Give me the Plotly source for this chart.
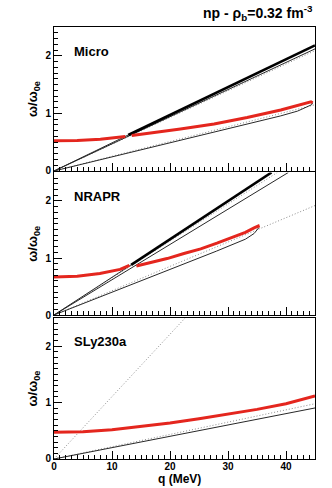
import plotly.graph_objects as go

# ---------------- data ----------------
# Panel 1: Micro
micro_thick_q = [12.8, 45]
micro_thick_w = [0.625, 2.18]
micro_seg_q = [0, 12.8]
micro_seg_w = [0, 0.625]
micro_up_thin_q = [0, 45]
micro_up_thin_w = [0, 2.12]
micro_up_dot_q = [0, 45]
micro_up_dot_w = [0, 2.09]
micro_lo_thin_q = [0, 23.5, 35, 39.1, 42.0, 43.7, 44.4, 44.6]
micro_lo_thin_w = [0, 0.57, 0.85, 0.957, 1.04, 1.108, 1.15, 1.185]
micro_lo_dot_q = [0, 45]
micro_lo_dot_w = [0, 1.15]
micro_red1_q = [0, 4, 8, 10, 12.3]
micro_red1_w = [0.525, 0.53, 0.55, 0.57, 0.60]
micro_red2_q = [13.4, 17, 21.8, 27.6, 33.3, 39.1, 42.0, 43.5, 44.3, 44.6]
micro_red2_w = [0.615, 0.66, 0.73, 0.817, 0.93, 1.06, 1.14, 1.19, 1.2, 1.185]

# Panel 2: NRAPR
nrapr_thick_q = [13.3, 37.5]
nrapr_thick_w = [0.88, 2.5]
nrapr_seg_q = [0, 13.3]
nrapr_seg_w = [0, 0.88]
nrapr_up_thin_q = [0, 40.4]
nrapr_up_thin_w = [0, 2.5]
nrapr_up_dot_q = [0, 38.5]
nrapr_up_dot_w = [0, 2.5]
nrapr_lo_thin_q = [0, 16.6, 28, 33, 34.5, 35.3]
nrapr_lo_thin_w = [0, 0.66, 1.12, 1.33, 1.43, 1.53]
nrapr_lo_dot_q = [0, 45]
nrapr_lo_dot_w = [0, 1.92]
nrapr_red1_q = [0, 4, 7.9, 11.4, 13.0]
nrapr_red1_w = [0.665, 0.68, 0.73, 0.80, 0.87]
nrapr_red2_q = [14.2, 16.6, 19.5, 22.4, 25.3, 28.1, 31, 33, 34.5, 35.2, 35.3]
nrapr_red2_w = [0.86, 0.92, 0.99, 1.08, 1.16, 1.26, 1.37, 1.45, 1.53, 1.56, 1.53]

# Panel 3: SLy230a
sly_steep_dot_q = [0, 22.6]
sly_steep_dot_w = [0, 2.5]
sly_red_q = [0, 5, 10, 15, 20, 25, 30, 35, 40, 45]
sly_red_w = [0.475, 0.485, 0.52, 0.575, 0.64, 0.715, 0.795, 0.88, 0.98, 1.12]
sly_lo_thin_q = [0, 45]
sly_lo_thin_w = [0, 0.905]
sly_lo_dot_q = [0, 45]
sly_lo_dot_w = [0, 0.98]

panel_labels = ["Micro", "NRAPR", "SLy230a"]
x_ticks = [0, 10, 20, 30, 40]
y_ticks = [0, 1, 2]

# ---------------- styles ----------------
RED = "rgb(228,38,30)"
THIN = dict(color="rgb(40,40,40)", width=1)
DOT = dict(color="rgb(140,140,140)", width=1, dash="1px,2px")
THICK = dict(color="black", width=2.6)
REDL = dict(color=RED, width=3)

fig = go.Figure()


def add(q, w, line, ax):
    fig.add_trace(go.Scatter(x=q, y=w, mode="lines", line=line,
                             xaxis="x" + ax, yaxis="y" + ax,
                             hoverinfo="skip", showlegend=False))


# panel 1
add(micro_up_dot_q, micro_up_dot_w, DOT, "")
add(micro_lo_dot_q, micro_lo_dot_w, DOT, "")
add(micro_up_thin_q, micro_up_thin_w, THIN, "")
add(micro_seg_q, micro_seg_w, THIN, "")
add(micro_lo_thin_q, micro_lo_thin_w, THIN, "")
add(micro_thick_q, micro_thick_w, THICK, "")
add(micro_red1_q, micro_red1_w, REDL, "")
add(micro_red2_q, micro_red2_w, REDL, "")
# panel 2
add(nrapr_up_dot_q, nrapr_up_dot_w, DOT, "2")
add(nrapr_lo_dot_q, nrapr_lo_dot_w, DOT, "2")
add(nrapr_up_thin_q, nrapr_up_thin_w, THIN, "2")
add(nrapr_seg_q, nrapr_seg_w, THIN, "2")
add(nrapr_lo_thin_q, nrapr_lo_thin_w, THIN, "2")
add(nrapr_thick_q, nrapr_thick_w, THICK, "2")
add(nrapr_red1_q, nrapr_red1_w, REDL, "2")
add(nrapr_red2_q, nrapr_red2_w, REDL, "2")
# panel 3
add(sly_steep_dot_q, sly_steep_dot_w, DOT, "3")
add(sly_lo_dot_q, sly_lo_dot_w, DOT, "3")
add(sly_lo_thin_q, sly_lo_thin_w, THIN, "3")
add(sly_red_q, sly_red_w, REDL, "3")

FONT = "Liberation Sans, Arial, Helvetica, sans-serif"

domains = {"": [0.6667, 1.0], "2": [0.3333, 0.6632], "3": [0.0, 0.3264]}

layout = dict(
    width=332, height=488,
    margin=dict(l=54, r=17, t=27, b=29),
    paper_bgcolor="white", plot_bgcolor="white",
    showlegend=False,
    font=dict(family=FONT, color="black"),
)

for ax, dom in domains.items():
    layout["xaxis" + ax] = dict(
        domain=[0, 1], range=[0, 45], anchor="y" + ax,
        showgrid=False, zeroline=False,
        showline=True, linecolor="black", linewidth=1, mirror=True,
        ticks="inside", ticklen=8, tickcolor="black", tickwidth=1,
        tickvals=x_ticks, ticktext=[str(v) for v in x_ticks],
        showticklabels=(ax == "3"),
        ticklabelstandoff=-2,
        tickfont=dict(family=FONT, size=10, color="black", weight="bold"),
        minor=dict(ticks="inside", ticklen=4, dtick=1, tickcolor="black", tickwidth=1),
    )
    layout["yaxis" + ax] = dict(
        domain=dom, range=[0, 2.5], anchor="x" + ax,
        showgrid=False, zeroline=False,
        showline=True, linecolor="black", linewidth=1, mirror=True,
        ticks="inside", ticklen=8, tickcolor="black", tickwidth=1,
        tickvals=y_ticks, ticktext=[str(v) for v in y_ticks],
        tickfont=dict(family=FONT, size=10, color="black", weight="bold"),
        minor=dict(ticks="inside", ticklen=4, dtick=0.1, tickcolor="black", tickwidth=1),
    )

fig.update_layout(**layout)

annotations = []
for ax, lab in zip(["", "2", "3"], panel_labels):
    annotations.append(dict(
        x=3.1, y=2.08, xref="x" + ax, yref="y" + ax,
        text="<b>%s</b>" % lab, showarrow=False,
        xanchor="left", yanchor="middle",
        font=dict(family=FONT, size=13, color="black")))
    dom = domains[ax]
    annotations.append(dict(
        x=-0.077, y=(dom[0] + dom[1]) / 2, xref="paper", yref="paper",
        text="<b>ω/ω<sub>0e</sub></b>", showarrow=False, textangle=-90,
        xanchor="center", yanchor="middle",
        font=dict(family=FONT, size=13, color="black")))

annotations.append(dict(
    x=0.48, y=-0.0675, xref="paper", yref="paper",
    text="<b>q (MeV)</b>", showarrow=False,
    xanchor="center", yanchor="bottom",
    font=dict(family=FONT, size=12, color="black")))

annotations.append(dict(
    x=1.0, y=1.033, xref="paper", yref="paper",
    text="<b>np - ρ<sub>b</sub>=0.32 fm<sup>-3</sup></b>", showarrow=False,
    xanchor="right", yanchor="middle",
    font=dict(family=FONT, size=14, color="black")))

fig.update_layout(annotations=annotations)

fig.write_html("out.html")
